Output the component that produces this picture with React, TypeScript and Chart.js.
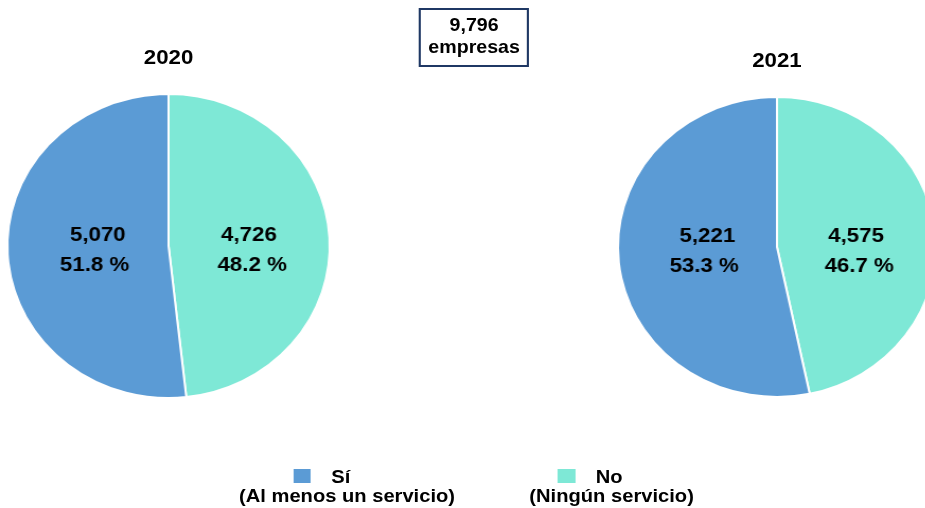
import React, { useEffect, useRef } from "react";
import { Chart, registerables } from "chart.js";

Chart.register(...registerables);

// ---- data ----
const years = ["2020", "2021"];
const sliceLabels = ["No", "Sí"]; // clockwise order from 12 o'clock
const noValues = [4726, 4575];
const siValues = [5070, 5221];
const noPercents = [48.2, 46.7];
const siPercents = [51.8, 53.3];
const totalCompanies = 9796;
const totalUnit = "empresas";
const legendTitles = ["Sí", "No"];
const legendSubtitles = ["(Al menos un servicio)", "(Ningún servicio)"];

const BLUE = "#5B9BD5";
const TEAL = "#7EE8D6";
const FONT = "'Liberation Sans', Arial, Helvetica, sans-serif";
const SX = 1.06; // horizontal stretch of the whole picture

const fmt = (n: number) => n.toLocaleString("en-US");

type PieProps = { idx: number; cx: number; cy: number; r: number };

function Pie({ idx, cx, cy, r }: PieProps) {
  const ref = useRef<HTMLCanvasElement | null>(null);
  const SIZE = 330;
  useEffect(() => {
    if (!ref.current) return;
    const values = [noValues[idx], siValues[idx]];
    const pcts = [noPercents[idx], siPercents[idx]];
    const labelPlugin = {
      id: "sliceLabels",
      afterDatasetsDraw(chart: any) {
        const ctx = chart.ctx;
        const meta = chart.getDatasetMeta(0);
        ctx.save();
        ctx.fillStyle = "#000";
        ctx.font = `bold 21px ${FONT}`;
        ctx.textAlign = "center";
        ctx.textBaseline = "middle";
        meta.data.forEach((arc: any, i: number) => {
          const p = arc.getProps(["x", "y", "startAngle", "endAngle", "outerRadius"], true);
          const mid = (p.startAngle + p.endAngle) / 2;
          const frac = i === 1 ? 0.44 : 0.5;
          const x = p.x + Math.cos(mid) * p.outerRadius * frac;
          const dir = Math.cos(mid) >= 0 ? 1 : -1;
          ctx.fillText(fmt(values[i]), x, p.y - 11);
          ctx.fillText(`${pcts[i].toFixed(1)} %`, x + dir * 3, p.y + 19.5);
        });
        ctx.restore();
      },
    };
    const chart = new Chart(ref.current, {
      type: "pie",
      data: {
        labels: sliceLabels,
        datasets: [
          {
            data: values,
            backgroundColor: [TEAL, BLUE],
            borderColor: "#ffffff",
            borderWidth: 2,
            radius: r,
          } as any,
        ],
      },
      options: {
        responsive: false,
        maintainAspectRatio: false,
        animation: false,
        devicePixelRatio: 1,
        layout: { padding: 0 },
        plugins: {
          legend: { display: false },
          tooltip: { enabled: false },
          title: { display: false },
        },
      },
      plugins: [labelPlugin],
    });
    return () => chart.destroy();
  }, [idx, r]);
  return (
    <canvas
      ref={ref}
      width={SIZE}
      height={SIZE}
      style={{
        position: "absolute",
        left: cx - SIZE / 2,
        top: cy - SIZE / 2,
        width: SIZE,
        height: SIZE,
      }}
    />
  );
}

const textStyle = (cxp: number, top: number, size: number): React.CSSProperties => ({
  position: "absolute",
  left: cxp,
  top,
  transform: "translateX(-50%)",
  fontFamily: FONT,
  fontWeight: "bold",
  fontSize: size,
  lineHeight: 1,
  whiteSpace: "nowrap",
  color: "#000",
});

export default function App() {
  const pies = [
    { cx: 159, cy: 246, r: 152, titleTop: 46 },
    { cx: 733, cy: 247, r: 150, titleTop: 49 },
  ];
  const legend = [
    { sq: 276.7, color: BLUE, titleX: 321.6, subX: 327.4 },
    { sq: 526, color: TEAL, titleX: 574.6, subX: 577 },
  ];
  return (
    <div
      style={{
        position: "absolute",
        left: 0,
        top: 0,
        width: 925,
        height: 508,
        overflow: "hidden",
        background: "#fff",
      }}
    >
      <div
        style={{
          position: "relative",
          width: 925 / SX,
          height: 508,
          transform: `scaleX(${SX})`,
          transformOrigin: "0 0",
        }}
      >
        {pies.map((p, i) => (
          <React.Fragment key={years[i]}>
            <Pie idx={i} cx={p.cx} cy={p.cy} r={p.r} />
            <div style={textStyle(p.cx, p.titleTop, 21)}>{years[i]}</div>
          </React.Fragment>
        ))}
        <div
          style={{
            position: "absolute",
            left: 395.3,
            top: 7.7,
            width: 104,
            height: 59,
            boxSizing: "border-box",
            border: "2px solid #1F3864",
            background: "#fff",
          }}
        />
        <div style={textStyle(447.3, 15.5, 18.5)}>{fmt(totalCompanies)}</div>
        <div style={textStyle(447.3, 37.5, 18.5)}>{totalUnit}</div>
        {legend.map((l, i) => (
          <React.Fragment key={legendTitles[i]}>
            <div
              style={{
                position: "absolute",
                left: l.sq,
                top: 469,
                width: 16.5,
                height: 14,
                background: l.color,
              }}
            />
            <div style={textStyle(l.titleX, 467, 19)}>{legendTitles[i]}</div>
            <div style={textStyle(l.subX, 486, 19)}>{legendSubtitles[i]}</div>
          </React.Fragment>
        ))}
      </div>
    </div>
  );
}
